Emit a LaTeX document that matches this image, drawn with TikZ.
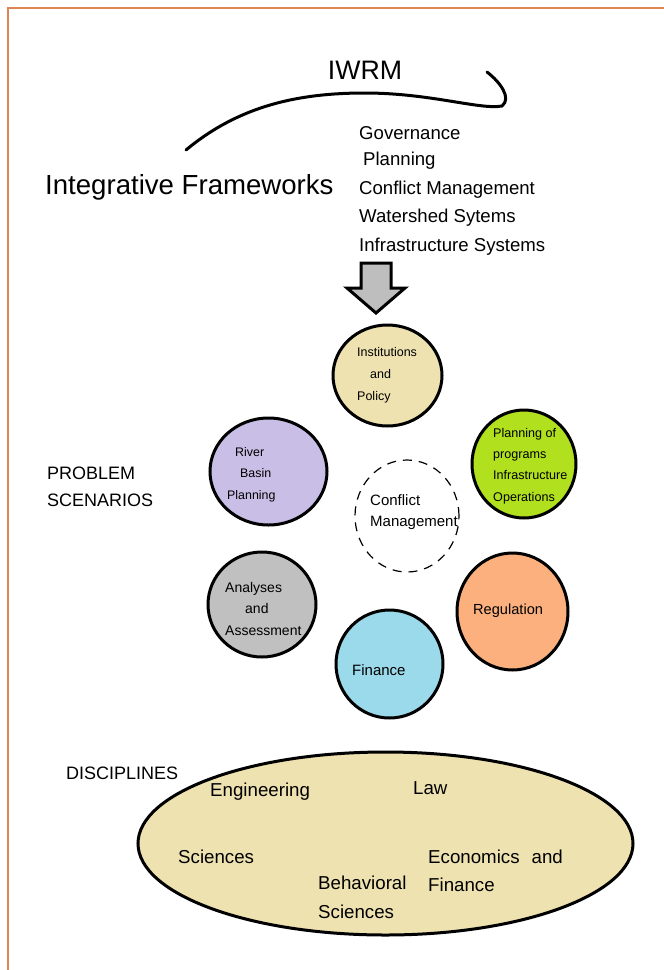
\documentclass[tikz,border=0pt]{standalone}
\usepackage{fontspec}
\setmainfont{Liberation Sans}
\usetikzlibrary{shapes.geometric}
\definecolor{framecol}{RGB}{221,134,84}
\definecolor{instcol}{RGB}{238,226,176}
\definecolor{plancol}{RGB}{176,224,30}
\definecolor{rivercol}{RGB}{200,190,230}
\definecolor{analcol}{RGB}{192,192,192}
\definecolor{regcol}{RGB}{251,176,126}
\definecolor{fincol}{RGB}{155,218,234}
\definecolor{arrowcol}{RGB}{190,190,190}
\begin{document}
\begin{tikzpicture}[x=1pt,y=-1pt,
  blob/.style={draw, ellipse, line width=3pt, inner sep=0pt},
  txt/.style={inner sep=0pt, anchor=west, align=left},
  fsize/.style={font=\fontsize{#1}{#1}\selectfont}]
\useasboundingbox (0,0) rectangle (664,970);
% frame
\draw[framecol, line width=2.5pt] (8,980) -- (8,8) -- (680,8);

% top titles
\node[inner sep=0pt, font=\fontsize{26.7}{30}\selectfont] (iwrm) at (365,70) {IWRM};
\node[txt, font=\fontsize{27.6}{32}\selectfont] (frame) at (45,187) {Integrative Frameworks};
\coordinate (cstart) at (186,150);
\coordinate (chook) at (487,72);
\draw[line width=3pt, line cap=round] (cstart) .. controls (240,105) and (300,93) .. (365,93)
  .. controls (430,93) and (480,110) .. (502,106) .. controls (512,98) and (500,82) .. (chook);

% list of frameworks
\node[txt, fsize=18.6] (gov) at (359,133) {Governance};
\node[txt, fsize=18.6] (plann) at (363,161) {Planning};
\node[txt, fsize=18.6] (confm) at (359,190) {Conflict Management};
\node[txt, fsize=18.6] (water) at (359,218) {Watershed Sytems};
\node[txt, fsize=18.6] (infra) at (359,247) {Infrastructure Systems};

% block arrow
\draw[line width=3pt, fill=arrowcol, line join=miter]
  (361,263) -- (391,263) -- (391,288) -- (405,288) -- (376,313) -- (347,288) -- (361,288) -- cycle;

% problem scenarios
\node[txt, font=\fontsize{18}{27}\selectfont] (probs) at (47,486.5) {PROBLEM\\SCENARIOS};

\node[blob, fill=instcol, minimum width=109pt, minimum height=101pt] (inst) at (387.5,375.5) {};
\node[txt, font=\fontsize{12.5}{22}\selectfont] (instt) at (357,375) {Institutions\\\hspace*{13pt}and\\Policy};

\node[blob, fill=plancol, minimum width=104pt, minimum height=108pt] (plan) at (524,464) {};
\node[txt, font=\fontsize{12.6}{21.3}\selectfont] (plant) at (493,466) {Planning of\\programs\\Infrastructure\\Operations};

\node[blob, fill=rivercol, minimum width=117pt, minimum height=107pt] (river) at (268.5,471.5) {};
\node[txt, font=\fontsize{12.4}{21.5}\selectfont] (rivert) at (227,474.5) {\hspace*{8pt}River\\\hspace*{13pt}Basin\\Planning};

\node[draw, ellipse, line width=1.2pt, dash pattern=on 9pt off 7pt, minimum width=104pt, minimum height=112pt] (conf) at (407,516) {};
\node[txt, font=\fontsize{15}{21}\selectfont] (conft) at (370,512.5) {Conflict\\Management};

\node[blob, fill=analcol, minimum width=108pt, minimum height=105pt] (anal) at (262,604.5) {};
\node[txt, font=\fontsize{14}{21.5}\selectfont] (analt) at (225,608.5) {Analyses\\\hspace*{20pt}and\\Assessment};

\node[blob, fill=regcol, minimum width=111pt, minimum height=117pt] (reg) at (512.5,611.5) {};
\node[txt, fsize=14.6] (regt) at (473,611) {Regulation};

\node[blob, fill=fincol, minimum width=107pt, minimum height=108pt] (fin) at (389.5,664) {};
\node[txt, fsize=15] (fint) at (352,670) {Finance};

% disciplines
\node[txt, fsize=18] (disc) at (66,773) {DISCIPLINES};
\node[blob, fill=instcol, minimum width=495pt, minimum height=183pt] (discs) at (385.5,843.5) {};
\node[txt, fsize=18.7] (eng) at (210,792) {Engineering};
\node[txt, fsize=18.7] (law) at (413,788) {Law};
\node[txt, fsize=18.7] (sci) at (178,857) {Sciences};
\node[txt, fsize=18.7] (econ) at (428,857) {Economics\hspace{12pt}and};
\node[txt, fsize=18.7] (finn) at (428,885) {Finance};
\node[txt, font=\fontsize{18.7}{29}\selectfont] (behav) at (318,897.5) {Behavioral\\Sciences};
\end{tikzpicture}
\end{document}
